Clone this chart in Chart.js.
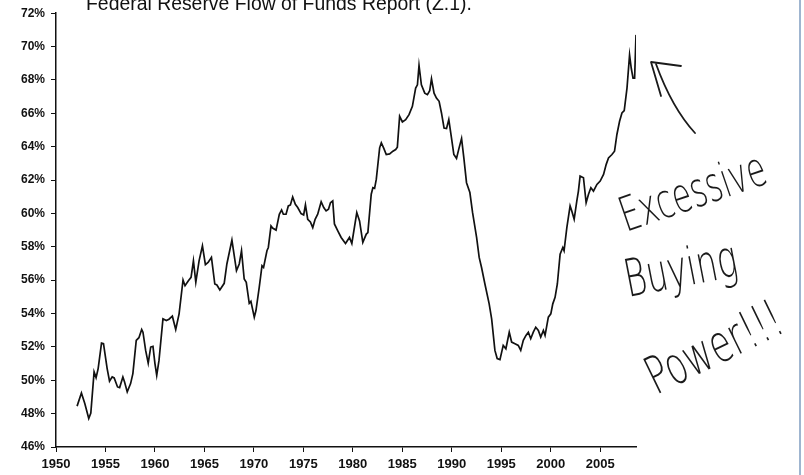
<!DOCTYPE html>
<html><head><meta charset="utf-8">
<script src="https://cdn.jsdelivr.net/npm/chart.js@4.4.1/dist/chart.umd.min.js"></script>
<style>html,body{margin:0;padding:0;background:#fff;}#wrap{width:804px;height:475px;position:relative;}</style>
</head><body><div id="wrap"><canvas id="c" width="804" height="475"></canvas></div>
<script>
// ---- data ----
const years = [
1952.13,1952.57,1952.91,1953.31,1953.52,1953.85,1954.05,1954.26,1954.60,1954.80,
1955.17,1955.41,1955.68,1955.88,1956.22,1956.43,1956.76,1956.93,1957.20,1957.54,
1957.77,1958.11,1958.38,1958.66,1958.79,1959.06,1959.32,1959.57,1959.80,1960.00,
1960.18,1960.41,1960.81,1961.15,1961.42,1961.76,1962.10,1962.44,1962.84,1963.04,
1963.38,1963.65,1963.89,
1964.13,1964.46,1964.80,1965.10,1965.37,1965.71,1966.05,1966.26,1966.56,1967.00,
1967.27,1967.78,1968.24,1968.52,1968.75,1969.02,1969.23,1969.53,1969.70,1970.04,
1970.21,1970.54,1970.82,1970.98,1971.32,1971.46,1971.73,1971.89,1972.24,1972.57,
1972.80,1972.98,1973.25,1973.48,1973.69,1973.92,1974.19,1974.43,1974.77,1975.03,
1975.21,1975.44,1975.71,1975.95,1976.19,1976.45,1976.80,1977.06,1977.30,1977.54,
1977.74,1977.97,
1978.14,1978.48,1978.82,1979.26,1979.66,1979.90,1980.40,1980.68,1981.01,1981.36,
1981.52,1981.86,1982.03,1982.20,1982.37,1982.71,1982.88,1983.11,1983.38,1983.72,
1984.05,1984.33,1984.50,1984.73,1985.01,1985.34,1985.68,1986.02,1986.35,1986.53,
1986.69,1986.93,1987.27,1987.54,1987.77,1987.95,1988.21,1988.45,1988.72,1988.96,
1989.22,1989.47,1989.70,1989.97,1990.21,1990.48,1990.74,1990.99,1991.22,1991.49,
1991.83,1992.10,1992.51,1992.77,
1993.01,1993.35,1993.78,1994.03,1994.36,1994.59,1994.87,1995.20,1995.47,1995.81,
1996.05,1996.39,1996.72,1996.97,1997.23,1997.50,1997.74,1997.98,1998.24,1998.49,
1998.75,1998.99,1999.26,1999.43,1999.76,2000.01,2000.21,2000.44,2000.67,2000.95,
2001.22,2001.35,2001.63,2001.96,2002.13,2002.37,2002.64,2002.80,2002.97,2003.31,
2003.58,2003.82,2004.06,2004.32,2004.67,2005.00,2005.34,2005.61,2005.84,2006.19,
2006.45,2006.69,2006.96,2007.20,2007.43,2007.71,2007.97,2008.14,2008.32,2008.48,
2008.62
];
const shares = [
48.45,49.24,48.61,47.71,48.03,50.50,50.16,50.70,52.23,52.19,
50.70,49.94,50.20,50.14,49.60,49.56,50.20,49.90,49.30,49.80,
50.40,52.39,52.55,53.04,52.88,51.79,51.03,51.99,52.03,51.00,
50.30,51.19,53.68,53.58,53.66,53.84,53.04,53.98,56.01,55.67,
55.97,56.17,57.16,
55.87,57.16,58.06,56.93,57.06,57.36,55.77,55.71,55.41,55.81,
56.97,58.40,56.57,56.97,57.76,56.07,55.87,54.61,54.73,53.78,
54.18,55.57,56.87,56.76,57.76,57.96,59.25,59.12,59.00,59.95,
60.21,59.95,59.95,60.45,60.51,60.99,60.55,60.35,59.99,59.91,
60.51,59.65,59.49,59.15,59.65,59.95,60.70,60.35,60.15,60.25,
60.64,60.75,
59.37,58.96,58.56,58.20,58.56,58.20,60.05,59.55,58.26,58.76,
58.85,61.15,61.54,61.50,62.04,63.93,64.23,63.93,63.53,63.57,
63.73,63.83,63.97,65.82,65.48,65.62,65.92,66.42,67.51,67.71,
68.87,67.71,67.21,67.12,67.36,68.07,67.21,66.91,66.72,66.02,
65.12,65.09,65.62,64.53,63.53,63.30,63.93,64.49,63.33,61.84,
61.25,60.06,58.56,57.36,
56.76,55.77,54.58,53.68,51.79,51.30,51.24,52.09,51.89,52.88,
52.29,52.19,52.09,51.79,52.39,52.69,52.88,52.49,52.88,53.18,
52.99,52.59,52.99,52.69,53.78,53.98,54.58,54.97,55.77,57.56,
57.96,57.76,59.15,60.45,60.15,59.65,60.75,61.34,62.24,62.14,
60.64,61.15,61.54,61.34,61.74,61.94,62.34,62.94,63.33,63.53,
63.73,64.73,65.52,66.02,66.16,67.51,69.50,68.70,68.11,68.11,
70.70
];
const xTickYears = [1950,1955,1960,1965,1970,1975,1980,1985,1990,1995,2000,2005];
const yTickValues = [46,48,50,52,54,56,58,60,62,64,66,68,70,72];
const titleText = "Federal Reserve Flow of Funds Report (Z.1).";
const noteWords = ["Excessive","Buying","Power!!!"];

// ---- drawing ----
const points = years.map((y,i)=>({x:y, y:shares[i]}));
const fam = "'Liberation Sans', Arial, sans-serif";

function hand(ctx, text, x, y, ang, size, w){
  ctx.save();
  ctx.translate(x,y);
  ctx.rotate(ang*Math.PI/180);
  ctx.font = "200 "+size+"px 'DejaVu Sans', sans-serif";
  const m = ctx.measureText(text).width;
  ctx.scale(w/m,1);
  ctx.fillStyle = '#1a1a1a';
  ctx.fillText(text,0,0);
  ctx.restore();
}

const decor = {
  id:'decor',
  afterDraw(chart){
    const ctx = chart.ctx;
    ctx.save();
    ctx.fillStyle = '#111';
    ctx.font = "19.4px " + fam;
    ctx.textBaseline = 'alphabetic';
    ctx.textAlign = 'left';
    ctx.fillText(titleText, 86, 10);
    // handwritten note
    hand(ctx, noteWords[0], 626, 232, -19, 48, 152);
    hand(ctx, noteWords[1], 628, 297, -11, 52, 114);
    hand(ctx, noteWords[2], 656, 395, -26, 52, 146);
    // arrow
    ctx.strokeStyle = '#1a1a1a';
    ctx.lineWidth = 1.8;
    ctx.lineCap = 'round';
    ctx.lineJoin = 'round';
    ctx.beginPath();
    ctx.moveTo(695,133);
    ctx.quadraticCurveTo(672,108,656,64);
    ctx.stroke();
    ctx.beginPath();
    ctx.moveTo(661,96);
    ctx.lineTo(651,62);
    ctx.lineTo(681,66);
    ctx.stroke();
    // right edge line
    ctx.strokeStyle = '#7f9cc0';
    ctx.lineWidth = 1.5;
    ctx.beginPath();
    ctx.moveTo(800,0);
    ctx.lineTo(800,475);
    ctx.stroke();
    ctx.restore();
  }
};

new Chart(document.getElementById('c'), {
  type:'line',
  data:{datasets:[{data:points, borderColor:'#111', borderWidth:1.7, pointRadius:0, tension:0, fill:false}]},
  options:{
    responsive:false, animation:false, devicePixelRatio:1,
    layout:{padding:{left:0, right:168, top:11.5, bottom:0}},
    plugins:{legend:{display:false}, tooltip:{enabled:false}, title:{display:false}},
    scales:{
      x:{type:'linear', min:1950, max:years[years.length-1],
        afterBuildTicks(s){ s.ticks = xTickYears.map(v=>({value:v})); },
        afterFit(s){ s.height = 28; },
        grid:{drawOnChartArea:false, drawTicks:true, tickLength:5, color:'#111', lineWidth:1},
        border:{color:'#111', width:1.5},
        ticks:{font:{family:fam, size:13, weight:'bold'}, color:'#111', padding:5, maxRotation:0, autoSkip:false, callback:v=>String(v)}
      },
      y:{type:'linear', min:46, max:72,
        afterBuildTicks(s){ s.ticks = yTickValues.map(v=>({value:v})); },
        afterFit(s){ s.width = 56; },
        grid:{drawOnChartArea:false, drawTicks:true, tickLength:5, color:'#111', lineWidth:1},
        border:{color:'#111', width:1.5},
        ticks:{font:{family:fam, size:12, weight:'bold'}, color:'#111', padding:6, callback:v=>v+'%'}
      }
    }
  },
  plugins:[decor]
});
</script>
</body></html>
